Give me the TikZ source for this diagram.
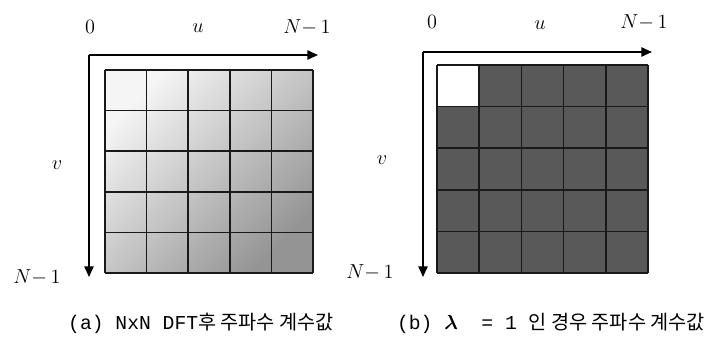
\documentclass[tikz,border=0pt]{standalone}
\usepackage{amsmath,amssymb}
\usepackage{fontspec}
\newfontfamily\krfont{Noto Sans CJK KR}
\newfontfamily\capmono{Liberation Mono}
\usetikzlibrary{arrows.meta}

\begin{document}
\begin{tikzpicture}[x=0.025cm, y=-0.025cm,
    axisarrow/.style={line width=1.2pt, -{Triangle[length=7.5pt,width=6.5pt]}},
    lbl/.style={font=\fontsize{15.5}{18}\selectfont, inner sep=0pt},
    captext/.style={font=\capmono\fontsize{14}{16}\selectfont, inner sep=0pt},
    gridline/.style={line width=1.1pt, draw=black!90}]

    \useasboundingbox (0,0) rectangle (704,336);

    % (a) coefficients after the DFT
    \shade[top color=black!4, bottom color=black!42, shading angle=45] (105,70) rectangle (313,273);
    \foreach \i in {0,...,5} {
        \draw[gridline] ({105+\i*41.6},70) -- ({105+\i*41.6},273);
        \draw[gridline] (105,{70+\i*40.6}) -- (313,{70+\i*40.6});
    }
    \coordinate (oa) at (89,55);
    \coordinate (ua) at (318,55);
    \coordinate (va) at (89,277);
    \draw[axisarrow] (oa) -- (ua);
    \draw[axisarrow] (oa) -- (va);
    \node[lbl] (zeroa) at (90,27) {$0$};
    \node[lbl] (ulbla) at (198,28) {$u$};
    \node[lbl] (enda) at (307,27) {$N{-}\,1$};
    \node[lbl] (vlbla) at (57,165) {$v$};
    \node[lbl] (botta) at (37,277) {$N{-}\,1$};
    \node[captext] (capa) at (201,323) {(a) NxN DFT{\krfont 후 주파수 계수값}};

    % (b) coefficients for lambda = 1
    \fill[black!65] (437,65) rectangle (648,273);
    \fill[white] (437,65) rectangle (479.2,106.6);
    \foreach \i in {0,...,5} {
        \draw[gridline] ({437+\i*42.2},65) -- ({437+\i*42.2},273);
        \draw[gridline] (437,{65+\i*41.6}) -- (648,{65+\i*41.6});
    }
    \coordinate (ob) at (423,52);
    \coordinate (ub) at (652,52);
    \coordinate (vb) at (423,277);
    \draw[axisarrow] (ob) -- (ub);
    \draw[axisarrow] (ob) -- (vb);
    \node[lbl] (zerob) at (432,22) {$0$};
    \node[lbl] (ulblb) at (540,25) {$u$};
    \node[lbl] (endb) at (644,22) {$N{-}\,1$};
    \node[lbl] (vlblb) at (382,160) {$v$};
    \node[lbl] (bottb) at (370,272) {$N{-}\,1$};
    \node[captext] (capb) at (551,323) {(b)~$\boldsymbol{\lambda}$~ = 1 {\krfont 인 경우 주파수 계수값}};
\end{tikzpicture}
\end{document}
